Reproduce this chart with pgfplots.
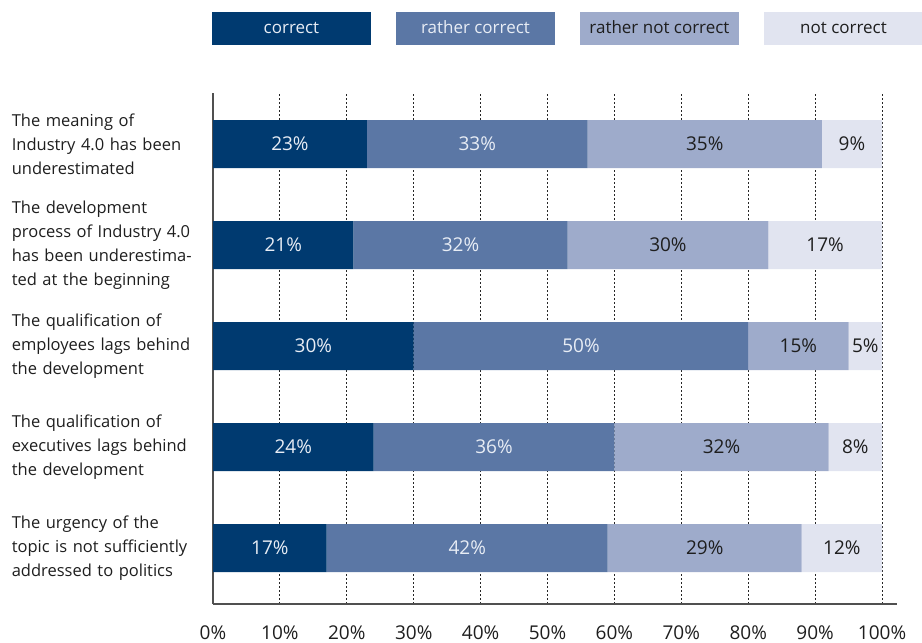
\documentclass[border=0pt]{standalone}
\usepackage{pgfplots}
\pgfplotsset{compat=1.18}
\usepackage{pgfplotstable}
\usepackage{fontspec}
\setmainfont{Open Sans}
\definecolor{cA}{HTML}{003A70}
\definecolor{cB}{HTML}{5B77A5}
\definecolor{cC}{HTML}{9EABCB}
\definecolor{cD}{HTML}{E1E4F0}
\definecolor{tW}{HTML}{E8EDF5}
\definecolor{tK}{HTML}{1E1E1E}
\definecolor{axc}{HTML}{505050}
\setlength{\fboxsep}{0pt}
\newcommand{\lbox}[3]{\colorbox{#1}{\makebox[159bp]{\rule[-12bp]{0pt}{33bp}\color{#2}#3}}}
\pgfplotstableread{
y a b c d
4 23 33 35 9
3 21 32 30 17
2 30 50 15 5
1 24 36 32 8
0 17 42 29 12
}\data
\begin{document}
\begin{tikzpicture}
\useasboundingbox (0,0) rectangle (922bp,643bp);
\pgfplotsset{common/.style={
  at={(213bp,39bp)}, anchor=south west,
  scale only axis, width=684bp, height=511bp,
  xmin=0, xmax=102.24, ymin=-0.554, ymax=4.505,
}}
\begin{axis}[common,
  xbar stacked, bar width=48bp,
  axis x line*=bottom, axis y line*=left,
  axis line style={-, axc, line width=1.5bp},
  xtick={0,10,...,100},
  xticklabel={\pgfmathprintnumber{\tick}\%},
  /pgf/number format/assume math mode=true,
  xticklabel style={font=\fontsize{19bp}{22bp}\selectfont, text=tK, anchor=north, inner sep=0pt, yshift=-22bp},
  major tick length=0pt,
  xmajorgrids, major grid style={black!85, dash pattern=on 2bp off 2bp, line width=0.9bp},
  ytick={4,3,2,1,0},
  yticklabels={{The meaning of\\Industry 4.0 has been\\underestimated},
    {The development\\process of Industry 4.0\\has been underestima-\\ted at the beginning},
    {The qualification of\\employees lags behind\\the development},
    {The qualification of\\executives lags behind\\the development},
    {The urgency of the\\topic is not sufficiently\\addressed to politics}},
  yticklabel style={font=\fontsize{16.5bp}{24bp}\selectfont, text=tK, anchor=east, align=left, text width=195bp, inner sep=0pt, xshift=-6bp},
  legend image code/.code={},
  legend columns=4,
  legend style={at={(axis description cs:-0.0015,1.1585)}, anchor=north west, draw=none, fill=none, inner sep=0pt, outer sep=0pt,
    /tikz/column sep=0pt, /tikz/every odd column/.append style={column sep=0pt}, /tikz/every even column/.append style={column sep=25bp},
    nodes={inner sep=0pt, outer sep=0pt, font=\fontsize{17bp}{20bp}\selectfont}},
]
\addplot[fill=cA, draw=none] table[x=a, y=y] \data;
\addplot[fill=cB, draw=none] table[x=b, y=y] \data;
\addplot[fill=cC, draw=none] table[x=c, y=y] \data;
\addplot[fill=cD, draw=none] table[x=d, y=y] \data;
\legend{\lbox{cA}{tW}{correct},\lbox{cB}{tW}{rather correct},\lbox{cC}{tK}{rather not correct},\lbox{cD}{tK}{not correct}}
\end{axis}
\begin{axis}[common, hide axis,
  nodes near coords={\pgfplotspointmeta\%},
  point meta=explicit symbolic,
  nodes near coords style={font=\fontsize{19bp}{22bp}\selectfont, anchor=center, inner sep=0pt},
]
\addplot[draw=none, mark=none, nodes near coords style={text=tW}] table[x expr=\thisrow{a}/2, y=y, meta=a] \data;
\addplot[draw=none, mark=none, nodes near coords style={text=tW}] table[x expr=\thisrow{a}+\thisrow{b}/2, y=y, meta=b] \data;
\addplot[draw=none, mark=none, nodes near coords style={text=tK}] table[x expr=\thisrow{a}+\thisrow{b}+\thisrow{c}/2, y=y, meta=c] \data;
\addplot[draw=none, mark=none, nodes near coords style={text=tK}] table[x expr=\thisrow{a}+\thisrow{b}+\thisrow{c}+\thisrow{d}/2, y=y, meta=d] \data;
\end{axis}
\end{tikzpicture}
\end{document}
